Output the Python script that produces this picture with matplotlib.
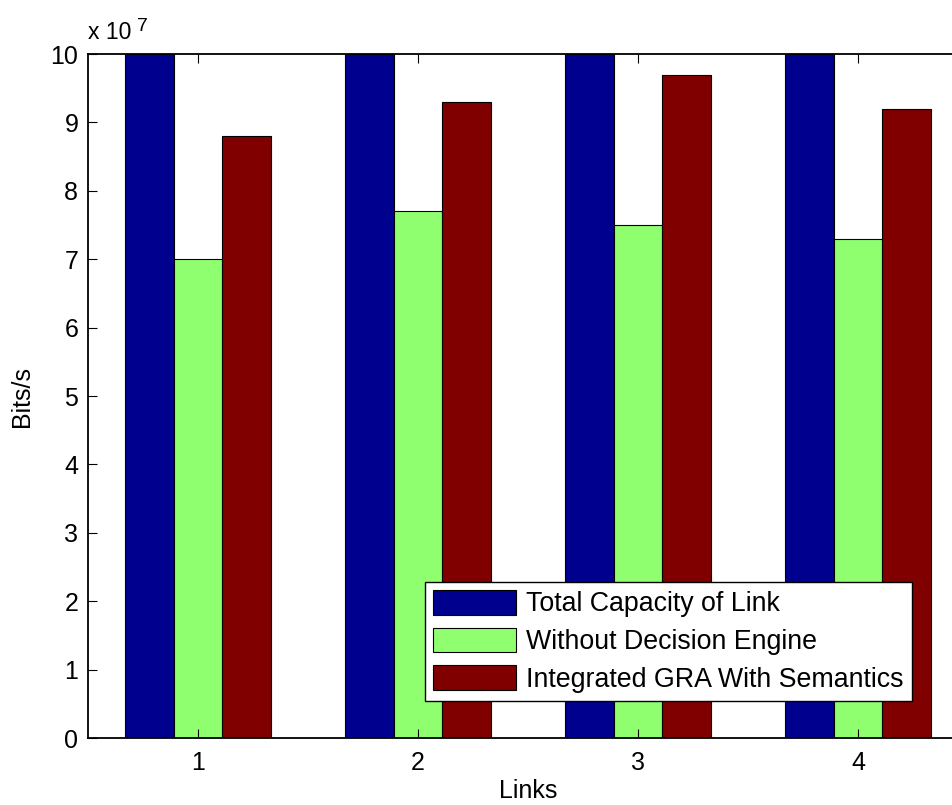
import numpy as np
import matplotlib.pyplot as plt
from matplotlib.ticker import FuncFormatter

plt.rcParams['font.family'] = ['Liberation Sans', 'DejaVu Sans']

links = [1, 2, 3, 4]
total_capacity = [10.0e7, 10.0e7, 10.0e7, 10.0e7]
without_engine = [7.0e7, 7.7e7, 7.5e7, 7.3e7]
integrated_gra = [8.8e7, 9.3e7, 9.7e7, 9.2e7]
series_names = ['Total Capacity of Link', 'Without Decision Engine',
                'Integrated GRA With Semantics']
colors = ['#00008f', '#8fff70', '#800000']

fig = plt.figure(figsize=(9.52, 8.05), dpi=100)
# axes run past the right edge of the figure, like the cropped original
ax = fig.add_axes([88/952, 1 - 738/805, 880/952, 684/805])

x = np.array(links)
w = 0.22
for i, vals in enumerate([total_capacity, without_engine, integrated_gra]):
    ax.bar(x + (i - 1)*w, vals, width=w, color=colors[i], edgecolor='black',
           linewidth=0.8, label=series_names[i])

ax.set_xlim(0.5, 4.5)
ax.set_ylim(0, 10e7)
ax.set_xticks(links)
ax.set_yticks(np.arange(0, 11)*1e7)
ax.yaxis.set_major_formatter(FuncFormatter(lambda v, p: '%d' % round(v/1e7)))
ax.tick_params(direction='in', length=6.5, width=0.8, top=True, right=True,
               labelsize=18)
ax.tick_params(axis='x', pad=9)
ax.tick_params(axis='y', pad=7)
for s in ax.spines.values():
    s.set_linewidth(1.3)

ax.set_xlabel('Links', fontsize=18, labelpad=3)
ax.set_ylabel('Bits/s', fontsize=18, labelpad=12)

fig.text(88/952, 1 - 39/805, 'x 10', fontsize=16.5, va='baseline', ha='left')
fig.text(137/952, 1 - 31/805, '7', fontsize=14, va='baseline', ha='left')

leg = ax.legend(loc='lower right', bbox_to_anchor=((912-88)/880, (738-701)/684),
                fontsize=19.3, frameon=True, fancybox=False, framealpha=1,
                edgecolor='black', handlelength=3.1, handleheight=1.05,
                borderpad=0.3, labelspacing=0.38, handletextpad=0.4,
                borderaxespad=0)
leg.get_frame().set_linewidth(1.0)

fig.savefig('out.png', dpi=100)
